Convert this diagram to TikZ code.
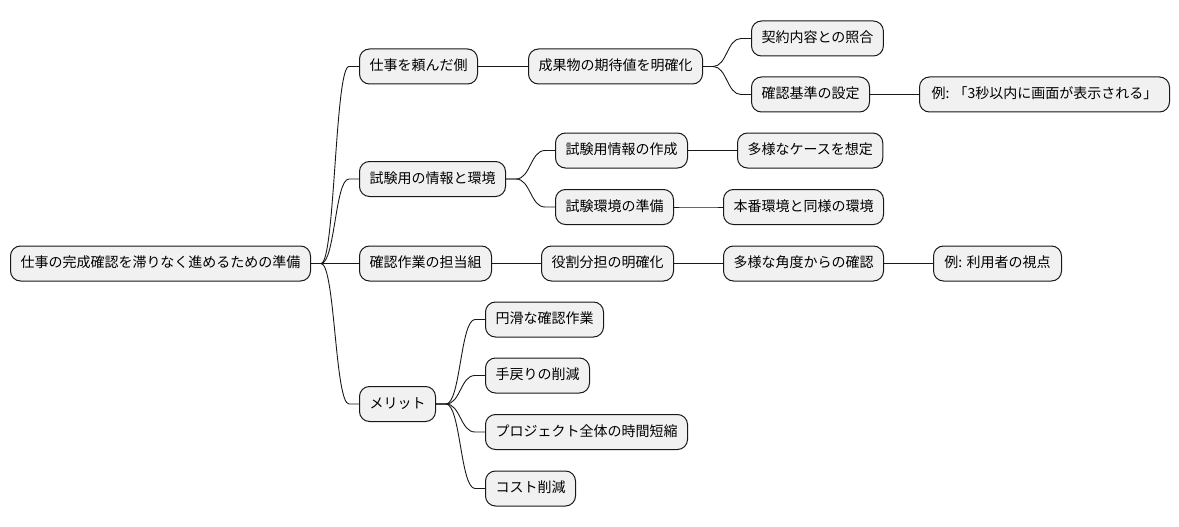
\documentclass[tikz,border=0pt]{standalone}
\usepackage{fontspec}
\setmainfont{Noto Sans CJK JP}
\usetikzlibrary{calc}
\definecolor{nodefill}{HTML}{F1F1F1}
\definecolor{nodeline}{HTML}{181818}
\tikzset{
  mm/.style={draw=nodeline, fill=nodefill, line width=1pt, rounded corners=10pt,
    minimum height=35pt, inner xsep=10pt, inner ysep=0pt, anchor=west,
    text height=11pt, text depth=3pt, font=\fontsize{14}{16}\selectfont},
  link/.style={draw=nodeline, line width=0.9pt}
}
\newcommand\mmlink[2]{\draw[link] let \p1=(#1.east), \p2=(#2.west) in
  (\p1) -- (\x1+10pt,\y1) .. controls ({(\x1+\x2)/2},\y1) and ({(\x1+\x2)/2},\y2) .. (\x2-10pt,\y2) -- (\p2);}
\begin{document}
\begin{tikzpicture}[x=1pt,y=-1pt]
\useasboundingbox (0,0) rectangle (1179,527);
\node[mm] (root) at (10,263.5) {仕事の完成確認を滞りなく進めるための準備};
\node[mm] (n1) at (359,66.5) {仕事を頼んだ側};
\node[mm] (n2) at (359,179) {試験用の情報と環境};
\node[mm] (n3) at (359,263.5) {確認作業の担当組};
\node[mm] (n4) at (359,404) {メリット};
\node[mm] (n11) at (528,66.5) {成果物の期待値を明確化};
\node[mm] (n111) at (751,38.5) {契約内容との照合};
\node[mm] (n112) at (751,94.5) {確認基準の設定};
\node[mm, minimum width=250pt] (n1121) at (919,94.5) {例: 「3秒以内に画面が表示される」};
\node[mm] (n21) at (555,150.5) {試験用情報の作成};
\node[mm] (n211) at (737,150.5) {多様なケースを想定};
\node[mm] (n22) at (555,207) {試験環境の準備};
\node[mm] (n221) at (723,207) {本番環境と同様の環境};
\node[mm] (n31) at (541,263.5) {役割分担の明確化};
\node[mm] (n311) at (723,263.5) {多様な角度からの確認};
\node[mm, minimum width=128pt] (n3111) at (933,263.5) {例: 利用者の視点};
\node[mm] (n41) at (485,319.5) {円滑な確認作業};
\node[mm] (n42) at (485,375.5) {手戻りの削減};
\node[mm] (n43) at (485,432) {プロジェクト全体の時間短縮};
\node[mm] (n44) at (485,488.5) {コスト削減};
\mmlink{root}{n1}
\mmlink{root}{n2}
\mmlink{root}{n3}
\mmlink{root}{n4}
\mmlink{n1}{n11}
\mmlink{n11}{n111}
\mmlink{n11}{n112}
\mmlink{n112}{n1121}
\mmlink{n2}{n21}
\mmlink{n2}{n22}
\mmlink{n21}{n211}
\mmlink{n22}{n221}
\mmlink{n3}{n31}
\mmlink{n31}{n311}
\mmlink{n311}{n3111}
\mmlink{n4}{n41}
\mmlink{n4}{n42}
\mmlink{n4}{n43}
\mmlink{n4}{n44}
\end{tikzpicture}
\end{document}
